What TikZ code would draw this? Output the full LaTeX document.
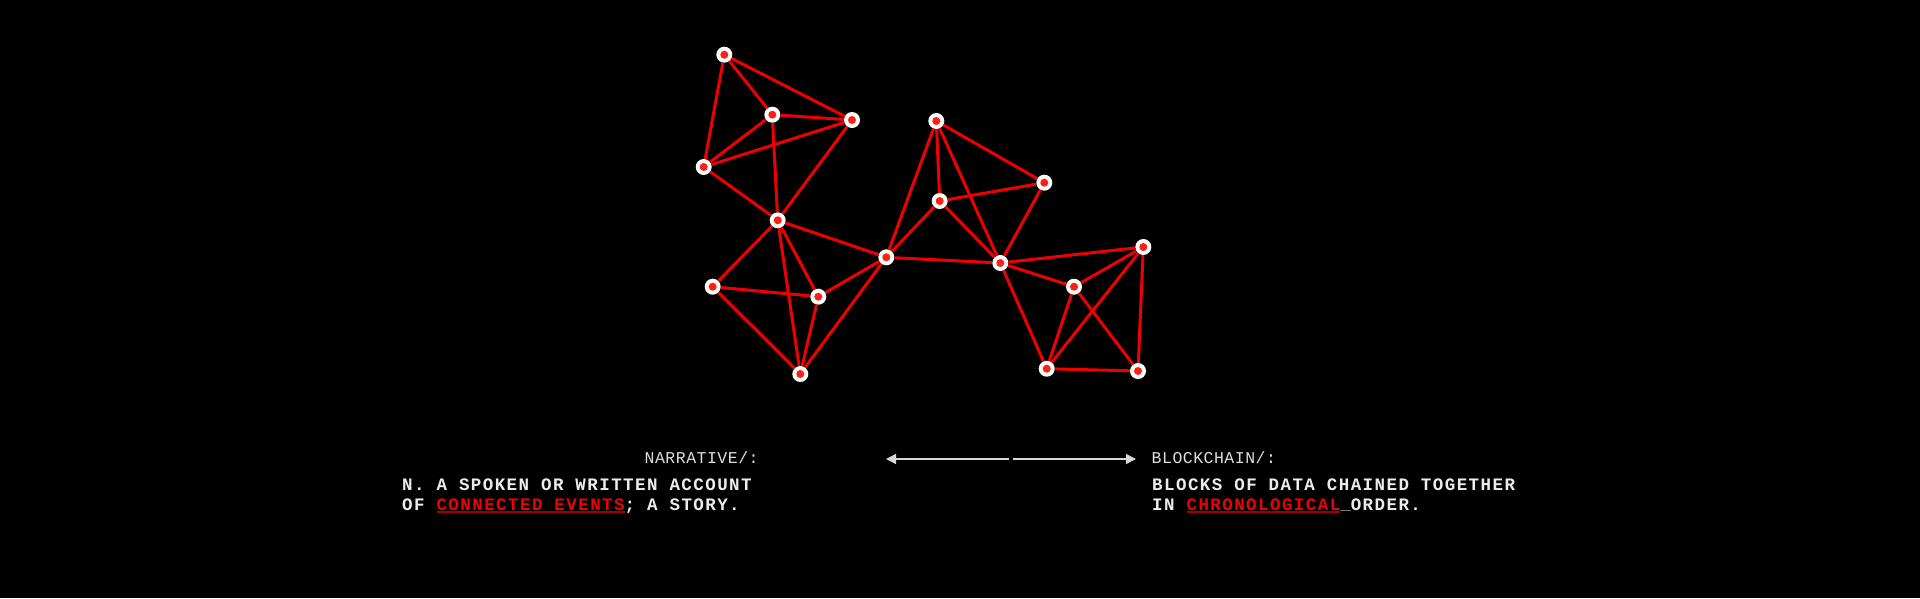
\documentclass[tikz,border=0pt]{standalone}
\usepackage{fontspec}
\usetikzlibrary{arrows.meta}
\newfontfamily\bodyfont[LetterSpace=8.2]{Liberation Mono}
\newfontfamily\headfont[LetterSpace=3]{Liberation Mono}
\definecolor{edgered}{RGB}{238,0,0}
\definecolor{dotred}{RGB}{255,30,20}
\definecolor{txtwhite}{RGB}{236,236,236}
\definecolor{headgrey}{RGB}{222,222,222}
\definecolor{txtred}{RGB}{240,0,0}
\definecolor{ulred}{RGB}{160,0,0}
\definecolor{usgrey}{RGB}{150,150,150}
\definecolor{arrgrey}{RGB}{215,215,215}
\newcommand\redul[1]{\setbox0\hbox{#1}\rlap{\color{ulred}\rule[-2.5pt]{\wd0}{2pt}}\box0}
\tikzset{
  dot/.style={circle, fill=white, minimum size=16pt, inner sep=0pt,
    path picture={\fill[dotred] (path picture bounding box.center) circle (4pt);}},
  link/.style={draw=edgered, line width=3pt},
  bodytext/.style={anchor=base west, inner sep=0pt, text=txtwhite, font=\bodyfont\bfseries\fontsize{17.5}{20}\selectfont},
  headtext/.style={anchor=base west, inner sep=0pt, text=headgrey, font=\headfont\fontsize{16.5}{20}\selectfont},
  arr/.style={draw=arrgrey, line width=1.5pt, -{Triangle[length=10pt,width=10pt]}}
}
\begin{document}
\begin{tikzpicture}[x=1pt,y=-1pt]
\fill[black] (0,0) rectangle (1920,598);
\useasboundingbox (0,0) rectangle (1920,598);
% nodes
\node[dot] (A) at (724.3,54.7) {};
\node[dot] (B) at (772.3,114.7) {};
\node[dot] (C) at (852,120) {};
\node[dot] (D) at (703.7,167) {};
\node[dot] (E) at (777.7,220.3) {};
\node[dot] (F) at (712.7,286.7) {};
\node[dot] (G) at (818.3,296.7) {};
\node[dot] (H) at (886.3,257.3) {};
\node[dot] (I) at (800.3,374) {};
\node[dot] (J) at (936.3,121) {};
\node[dot] (K) at (939.7,201) {};
\node[dot] (L) at (1044.3,182.7) {};
\node[dot] (M) at (1000.3,263) {};
\node[dot] (N) at (1143.3,247) {};
\node[dot] (O) at (1074,286.7) {};
\node[dot] (P) at (1046.7,368.7) {};
\node[dot] (Q) at (1138,371) {};
% edges
\foreach \a/\b in {A/B,A/C,A/D,B/C,B/D,D/C,B/E,C/E,D/E,E/H,E/F,E/G,E/I,F/G,F/I,G/I,G/H,H/I,
  H/J,H/K,H/M,J/K,J/L,J/M,K/L,K/M,L/M,M/N,M/O,M/P,O/N,O/P,O/Q,N/P,N/Q,P/Q}
  \draw[link] (\a) -- (\b);
% arrow
\coordinate (al) at (886,459);
\coordinate (ac1) at (1009.3,459);
\coordinate (ac2) at (1012.7,459);
\coordinate (ar) at (1136,459);
\draw[arr] (ac1) -- (al);
\draw[arr] (ac2) -- (ar);
% texts
\node[headtext] (hl) at (644.5,463.5) {NARRATIVE/:};
\node[headtext] (hr) at (1151.5,463.5) {BLOCKCHAIN/:};
\node[bodytext] (l1) at (402,490.5) {N. A SPOKEN OR WRITTEN ACCOUNT};
\node[bodytext] (l2) at (402,510.5) {OF \redul{\textcolor{txtred}{CONNECTED EVENTS}}; A STORY.};
\node[bodytext] (r1) at (1152,490.5) {BLOCKS OF DATA CHAINED TOGETHER};
\node[bodytext] (r2) at (1152,510.5) {IN \redul{\textcolor{txtred}{CHRONOLOGICAL}}\textcolor{usgrey}{\raisebox{1pt}{\_}}ORDER.};
\end{tikzpicture}
\end{document}
